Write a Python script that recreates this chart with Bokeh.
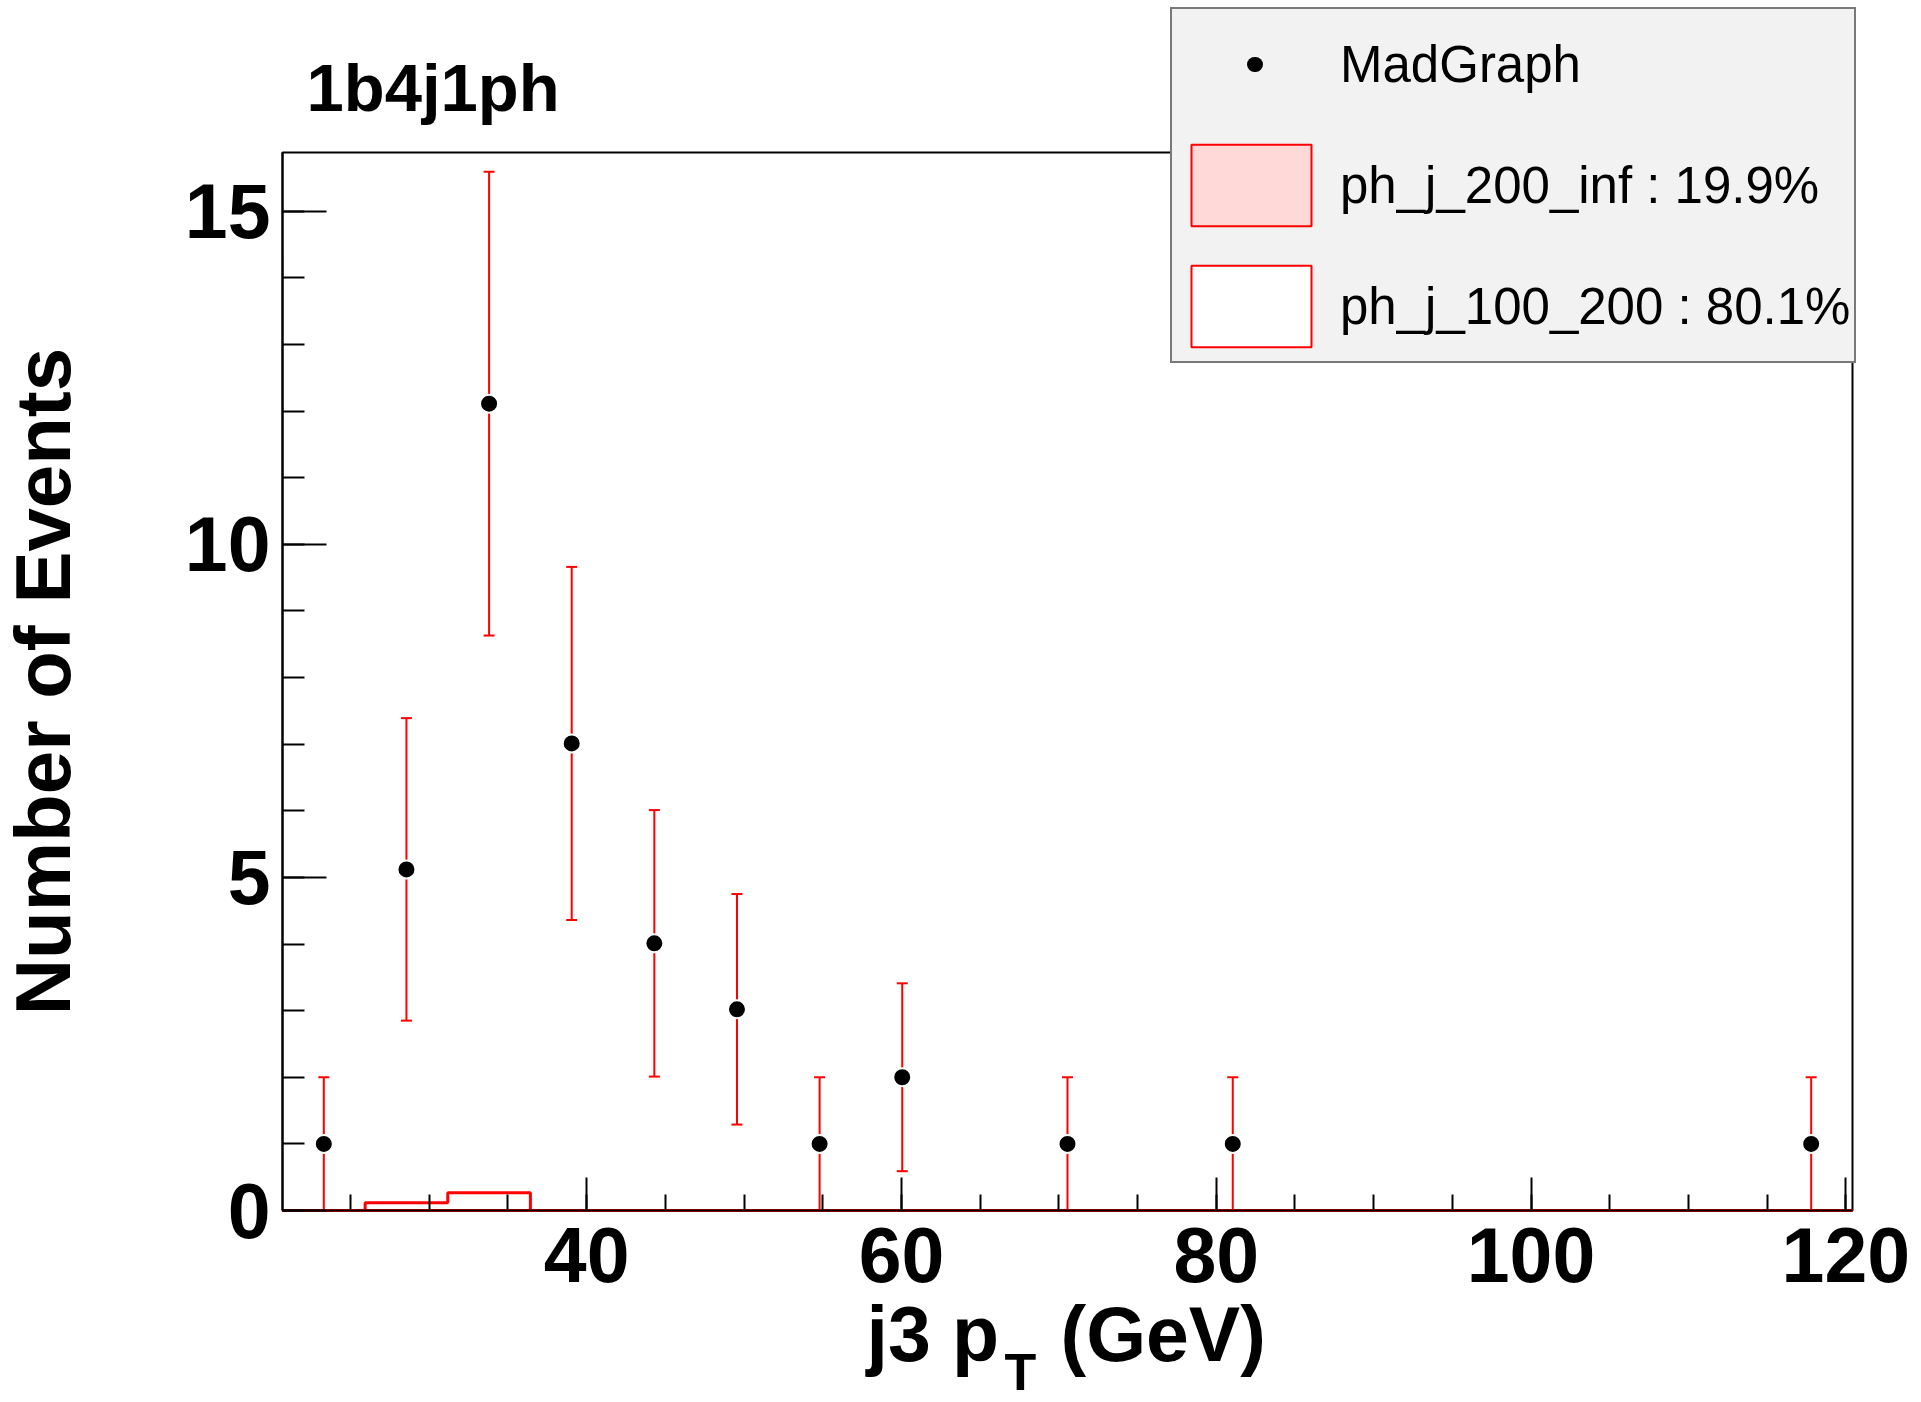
from bokeh.plotting import figure
from bokeh.models import Range1d, SingleIntervalTicker, Legend, LegendItem, Label
from bokeh.embed import file_html
from bokeh.resources import INLINE

# ---------------- data ----------------
bin_edges = [20.675, 25.925, 31.175, 36.425, 41.675, 46.925, 52.175, 57.425,
             62.675, 67.925, 73.175, 78.425, 83.675, 88.925, 94.175, 99.425,
             104.675, 109.925, 115.175, 120.425]
hist_ph_j_200_inf = [0, 0, 0, 0, 0, 0, 0, 0, 0, 0, 0, 0, 0, 0, 0, 0, 0, 0, 0]
hist_ph_j_100_200 = [0, 0.115, 0.266, 0, 0, 0, 0, 0, 0, 0, 0, 0, 0, 0, 0, 0, 0, 0, 0]

mg_x = [23.3, 28.55, 33.8, 39.05, 44.3, 49.55, 54.8, 60.05, 70.55, 81.05, 117.8]
mg_counts = [1.0, 5.12, 12.11, 7.01, 4.01, 3.02, 1.0, 2.0, 1.0, 1.0, 1.0]
mg_errors = [1.0, 2.27, 3.48, 2.65, 2.0, 1.73, 1.0, 1.41, 1.0, 1.0, 1.0]

legend_labels = ["MadGraph", "ph_j_200_inf : 19.9%", "ph_j_100_200 : 80.1%"]
title_text = "1b4j1ph"
y_title = "Number of Events"

X_START, X_END = 20.675, 120.425
Y_START, Y_END = 0.0, 15.88

# ---------------- layout constants (page pixels) ----------------
W, H = 1920, 1400
FR_LEFT, FR_RIGHT, FR_TOP, FR_BOTTOM = 282, 1852, 152, 1210
PX_X = (FR_RIGHT - FR_LEFT) / (X_END - X_START)
PX_Y = (FR_BOTTOM - FR_TOP) / (Y_END - Y_START)


def dx(px):
    return X_START + (px - FR_LEFT) / PX_X


def dy(py):
    return Y_START + (FR_BOTTOM - py) / PX_Y


FONT = "Liberation Sans"
RED = "#ff0000"
NAN = float("nan")

# the drawing area covers the whole canvas; the axes are pinned to the data frame
p = figure(width=W, height=H,
           x_range=Range1d(dx(0), dx(W)), y_range=Range1d(dy(H), dy(0)),
           output_backend="svg", toolbar_location=None,
           min_border_left=0, min_border_right=0, min_border_top=0, min_border_bottom=0,
           background_fill_color="white", border_fill_color="white")
p.xgrid.grid_line_color = None
p.ygrid.grid_line_color = None
p.outline_line_color = None

p.xaxis.ticker = SingleIntervalTicker(interval=20, num_minor_ticks=4)
p.yaxis.ticker = SingleIntervalTicker(interval=5, num_minor_ticks=5)
p.xaxis.fixed_location = Y_START
p.yaxis.fixed_location = X_START
p.xaxis.bounds = (X_START, X_END)
p.yaxis.bounds = (Y_START, Y_END)
for ax in (p.xaxis[0], p.yaxis[0]):
    ax.axis_line_color = "black"
    ax.axis_line_width = 2
    ax.major_tick_line_color = "black"
    ax.major_tick_line_width = 2
    ax.minor_tick_line_color = "black"
    ax.minor_tick_line_width = 2
    ax.major_tick_out = 0
    ax.minor_tick_out = 0
    ax.major_label_text_font = FONT
    ax.major_label_text_font_style = "bold"
    ax.major_label_text_font_size = "77px"
    ax.major_label_text_color = "black"
p.xaxis.major_tick_in = 33
p.xaxis.minor_tick_in = 16
p.xaxis.major_label_standoff = 17
p.yaxis.major_tick_in = 44
p.yaxis.minor_tick_in = 22
p.yaxis.major_label_standoff = 12
p.yaxis.axis_label = y_title
p.yaxis.axis_label_text_font = FONT
p.yaxis.axis_label_text_font_style = "bold"
p.yaxis.axis_label_text_font_size = "78px"
p.yaxis.axis_label_text_color = "black"
p.yaxis.axis_label_standoff = 95

# frame box of the data area
p.quad(left=[X_START], right=[X_END], bottom=[Y_START], top=[Y_END],
       fill_color=None, line_color="black", line_width=2)

# stacked histograms
stack_total = [a + b for a, b in zip(hist_ph_j_200_inf, hist_ph_j_100_200)]
p.quad(left=bin_edges[:-1], right=bin_edges[1:], bottom=0, top=hist_ph_j_200_inf,
       fill_color="#ffd8d8", line_color=None)
p.quad(left=bin_edges[:-1], right=bin_edges[1:], bottom=hist_ph_j_200_inf, top=stack_total,
       fill_color="white", line_color=None)
p.step(x=bin_edges, y=hist_ph_j_200_inf + [hist_ph_j_200_inf[-1]], mode="after",
       line_color=RED, line_width=3)
p.step(x=bin_edges, y=stack_total + [stack_total[-1]], mode="after",
       line_color=RED, line_width=3)

# MadGraph points with errors
lower = [c - e for c, e in zip(mg_counts, mg_errors)]
upper = [c + e for c, e in zip(mg_counts, mg_errors)]
p.segment(x0=mg_x, y0=lower, x1=mg_x, y1=upper, line_color=RED, line_width=2)
p.scatter(x=mg_x, y=upper, marker="dash", size=11, line_color=RED, line_width=2)
p.scatter(x=mg_x, y=lower, marker="dash", size=11, line_color=RED, line_width=2)
p.scatter(x=mg_x, y=mg_counts, marker="circle", size=18, fill_color="black",
          line_color="white", line_width=2)

# legend (renderers with NaN data only carry the legend styles)
leg_mg = p.line(x=[NAN, NAN], y=[NAN, NAN], line_color="black", line_width=15,
                line_cap="round", line_dash="1 300", line_dash_offset=-78)
leg_200 = p.quad(left=[NAN], right=[NAN], top=[NAN], bottom=[NAN], fill_color="#ffd8d8",
                 line_color=RED, line_width=2)
leg_100 = p.quad(left=[NAN], right=[NAN], top=[NAN], bottom=[NAN], fill_color="white",
                 line_color=RED, line_width=2)
legend = Legend(items=[LegendItem(label=legend_labels[0], renderers=[leg_mg]),
                       LegendItem(label=legend_labels[1], renderers=[leg_200]),
                       LegendItem(label=legend_labels[2], renderers=[leg_100])],
                location=(1170, H - 363),
                glyph_width=150, glyph_height=102, label_standoff=14,
                padding=4, spacing=19, margin=0,
                label_text_font=FONT, label_text_font_size="51px",
                label_text_color="black",
                background_fill_color="#f2f2f2", background_fill_alpha=1.0,
                border_line_color="black", border_line_width=2)
p.add_layout(legend)

# title and x-axis title (with subscript)
p.add_layout(Label(x=dx(306), y=dy(87), text=title_text, text_font=FONT,
                   text_font_style="bold", text_font_size="67px",
                   text_baseline="alphabetic", text_color="black"))
p.add_layout(Label(x=dx(866), y=dy(1333), text="j3 p", text_font=FONT,
                   text_font_style="bold", text_font_size="77px",
                   text_baseline="alphabetic", text_color="black"))
p.add_layout(Label(x=dx(1004), y=dy(1371), text="T", text_font=FONT,
                   text_font_style="bold", text_font_size="52px",
                   text_baseline="alphabetic", text_color="black"))
p.add_layout(Label(x=dx(1060), y=dy(1333), text="(GeV)", text_font=FONT,
                   text_font_style="bold", text_font_size="77px",
                   text_baseline="alphabetic", text_color="black"))

open("out.html", "w").write(file_html(p, INLINE))
